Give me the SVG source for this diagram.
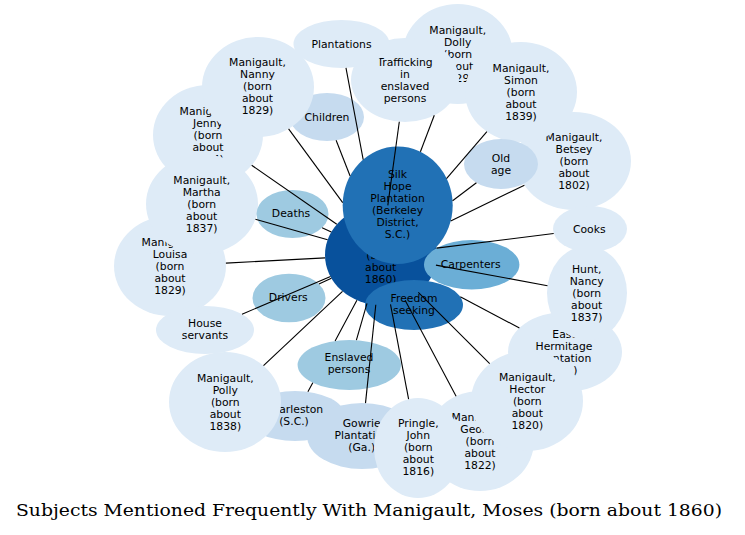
<svg xmlns="http://www.w3.org/2000/svg" width="745" height="535" viewBox="0 0 745 535">
<style>
.l{fill:#deebf7}.c{fill:#c6dbef}.m{fill:#9ecae1}.k{fill:#6baed6}.d{fill:#2171b5}.x{fill:#08519c}
text.t{font-family:"DejaVu Sans","Liberation Sans",sans-serif;font-size:10.8px;text-anchor:middle;fill:#000}
#edges path{stroke:#000;stroke-width:1.1;fill:none}
.title{font-family:"DejaVu Serif","Liberation Serif",serif;font-size:16.5px;text-anchor:middle;fill:#000}
</style>
<rect width="745" height="535" fill="#fff"/>
<g id="nodes">
<g id="n-moses"><ellipse class="x" cx="381" cy="255" rx="56" ry="50"/><text class="t" x="380.7" y="234.9"><tspan x="380.7">Manigault,</tspan><tspan x="380.7" dy="12">Moses</tspan><tspan x="380.7" dy="12">(born</tspan><tspan x="380.7" dy="12">about</tspan><tspan x="380.7" dy="12">1860)</tspan></text></g>
<g id="n-charleston"><ellipse class="c" cx="295" cy="416" rx="50" ry="25"/><text class="t" x="294" y="413.4"><tspan x="294">Charleston</tspan><tspan x="294" dy="12">(S.C.)</tspan></text></g>
<g id="n-gowrie"><ellipse class="c" cx="362" cy="436" rx="55" ry="33"/><text class="t" x="361.7" y="427.2"><tspan x="361.7">Gowrie</tspan><tspan x="361.7" dy="12">Plantation</tspan><tspan x="361.7" dy="12">(Ga.)</tspan></text></g>
<g id="n-jenny"><ellipse class="l" cx="208" cy="135" rx="55" ry="50"/><text class="t" x="208" y="114.9"><tspan x="208">Manigault,</tspan><tspan x="208" dy="12">Jenny</tspan><tspan x="208" dy="12">(born</tspan><tspan x="208" dy="12">about</tspan><tspan x="208" dy="12">1834)</tspan></text></g>
<g id="n-louisa"><ellipse class="l" cx="170" cy="266" rx="56" ry="50"/><text class="t" x="170" y="246.2"><tspan x="170">Manigault,</tspan><tspan x="170" dy="12">Louisa</tspan><tspan x="170" dy="12">(born</tspan><tspan x="170" dy="12">about</tspan><tspan x="170" dy="12">1829)</tspan></text></g>
<g id="n-children"><ellipse class="c" cx="327" cy="117" rx="37" ry="24"/><text class="t" x="327" y="120.9">Children</text></g>
<g id="n-dolly"><ellipse class="l" cx="457.7" cy="54" rx="55" ry="50"/><text class="t" x="457.7" y="33.6"><tspan x="457.7">Manigault,</tspan><tspan x="457.7" dy="12">Dolly</tspan><tspan x="457.7" dy="12">(born</tspan><tspan x="457.7" dy="12">about</tspan><tspan x="457.7" dy="12">1829)</tspan></text></g>
<g id="n-betsey"><ellipse class="l" cx="574" cy="161" rx="57" ry="49"/><text class="t" x="574" y="140.6"><tspan x="574">Manigault,</tspan><tspan x="574" dy="12">Betsey</tspan><tspan x="574" dy="12">(born</tspan><tspan x="574" dy="12">about</tspan><tspan x="574" dy="12">1802)</tspan></text></g>
<g id="n-east-hermitage"><ellipse class="l" cx="565" cy="352" rx="57" ry="40"/><text class="t" x="564" y="337.9"><tspan x="564">East</tspan><tspan x="564" dy="12">Hermitage</tspan><tspan x="564" dy="12">Plantation</tspan><tspan x="564" dy="12">(Ga.)</tspan></text></g>
<g id="n-george"><ellipse class="l" cx="480" cy="441" rx="54" ry="50"/><text class="t" x="480" y="421.2"><tspan x="480">Manigault,</tspan><tspan x="480" dy="12">George</tspan><tspan x="480" dy="12">(born</tspan><tspan x="480" dy="12">about</tspan><tspan x="480" dy="12">1822)</tspan></text></g>
<g id="n-martha"><ellipse class="l" cx="202" cy="204" rx="56" ry="50"/><text class="t" x="201.7" y="184.2"><tspan x="201.7">Manigault,</tspan><tspan x="201.7" dy="12">Martha</tspan><tspan x="201.7" dy="12">(born</tspan><tspan x="201.7" dy="12">about</tspan><tspan x="201.7" dy="12">1837)</tspan></text></g>
<g id="n-nanny"><ellipse class="l" cx="258" cy="87" rx="56" ry="50"/><text class="t" x="257.5" y="66.4"><tspan x="257.5">Manigault,</tspan><tspan x="257.5" dy="12">Nanny</tspan><tspan x="257.5" dy="12">(born</tspan><tspan x="257.5" dy="12">about</tspan><tspan x="257.5" dy="12">1829)</tspan></text></g>
<g id="n-trafficking"><ellipse class="l" cx="405" cy="80" rx="54" ry="42"/><text class="t" x="405" y="65.6"><tspan x="405">Trafficking</tspan><tspan x="405" dy="12">in</tspan><tspan x="405" dy="12">enslaved</tspan><tspan x="405" dy="12">persons</tspan></text></g>
<g id="n-simon"><ellipse class="l" cx="521" cy="92" rx="56" ry="50"/><text class="t" x="521" y="72.2"><tspan x="521">Manigault,</tspan><tspan x="521" dy="12">Simon</tspan><tspan x="521" dy="12">(born</tspan><tspan x="521" dy="12">about</tspan><tspan x="521" dy="12">1839)</tspan></text></g>
<g id="n-plantations"><ellipse class="l" cx="341.5" cy="44" rx="48" ry="24"/><text class="t" x="341.5" y="47.9">Plantations</text></g>
<g id="n-old-age"><ellipse class="c" cx="501" cy="164" rx="37" ry="25"/><text class="t" x="501" y="161.9"><tspan x="501">Old</tspan><tspan x="501" dy="12">age</tspan></text></g>
<g id="n-hunt"><ellipse class="l" cx="587" cy="293" rx="40" ry="47"/><text class="t" x="586.7" y="272.9"><tspan x="586.7">Hunt,</tspan><tspan x="586.7" dy="12">Nancy</tspan><tspan x="586.7" dy="12">(born</tspan><tspan x="586.7" dy="12">about</tspan><tspan x="586.7" dy="12">1837)</tspan></text></g>
<g id="n-hector"><ellipse class="l" cx="527" cy="401" rx="56" ry="50"/><text class="t" x="527.3" y="380.6"><tspan x="527.3">Manigault,</tspan><tspan x="527.3" dy="12">Hector</tspan><tspan x="527.3" dy="12">(born</tspan><tspan x="527.3" dy="12">about</tspan><tspan x="527.3" dy="12">1820)</tspan></text></g>
<g id="n-pringle"><ellipse class="l" cx="418" cy="448" rx="44" ry="50"/><text class="t" x="418.3" y="427.2"><tspan x="418.3">Pringle,</tspan><tspan x="418.3" dy="12">John</tspan><tspan x="418.3" dy="12">(born</tspan><tspan x="418.3" dy="12">about</tspan><tspan x="418.3" dy="12">1816)</tspan></text></g>
<g id="n-polly"><ellipse class="l" cx="225" cy="402" rx="56" ry="50"/><text class="t" x="225.3" y="382.2"><tspan x="225.3">Manigault,</tspan><tspan x="225.3" dy="12">Polly</tspan><tspan x="225.3" dy="12">(born</tspan><tspan x="225.3" dy="12">about</tspan><tspan x="225.3" dy="12">1838)</tspan></text></g>
<g id="n-cooks"><ellipse class="l" cx="590" cy="229" rx="37" ry="23"/><text class="t" x="589.3" y="233.2">Cooks</text></g>
<g id="n-house-servants"><ellipse class="l" cx="205" cy="330" rx="49" ry="24"/><text class="t" x="205" y="326.9"><tspan x="205">House</tspan><tspan x="205" dy="12">servants</tspan></text></g>
<g id="n-deaths"><ellipse class="m" cx="292.5" cy="214" rx="36" ry="24"/><text class="t" x="291" y="216.9">Deaths</text></g>
<g id="n-drivers"><ellipse class="m" cx="289" cy="298" rx="36.5" ry="24.3"/><text class="t" x="288.3" y="301.2">Drivers</text></g>
<g id="n-enslaved"><ellipse class="m" cx="349.3" cy="365" rx="51.7" ry="25"/><text class="t" x="349" y="361.4"><tspan x="349">Enslaved</tspan><tspan x="349" dy="12">persons</tspan></text></g>
<g id="n-silk-hope"><ellipse class="d" cx="397.7" cy="205.3" rx="55" ry="58.7"/><text class="t" x="397.5" y="178.2"><tspan x="397.5">Silk</tspan><tspan x="397.5" dy="12">Hope</tspan><tspan x="397.5" dy="12">Plantation</tspan><tspan x="397.5" dy="12">(Berkeley</tspan><tspan x="397.5" dy="12">District,</tspan><tspan x="397.5" dy="12">S.C.)</tspan></text></g>
<g id="n-carpenters"><ellipse class="k" cx="471.7" cy="264.7" rx="47.7" ry="24.7"/><text class="t" x="470.7" y="267.9">Carpenters</text></g>
<g id="n-freedom"><ellipse class="d" cx="414" cy="305" rx="49" ry="25"/><text class="t" x="414" y="301.9"><tspan x="414">Freedom</tspan><tspan x="414" dy="12">seeking</tspan></text></g>
</g>
<g id="edges">
<path d="M363.2,159.6L346,67.9"/>
<path d="M420.4,151.8L434.3,115.3"/>
<path d="M387.8,205.4L399.3,121.8"/>
<path d="M446.5,178.7L486.9,131.7"/>
<path d="M452.6,200.7L476.4,182.7"/>
<path d="M450.7,221.1L524.4,185.2"/>
<path d="M436.5,248.1L553.7,233.5"/>
<path d="M435.9,265.1L547.5,285.7"/>
<path d="M460.3,296.8L519.4,328"/>
<path d="M418.3,292.3L489.7,363.7"/>
<path d="M405.1,300.2L456.1,396.2"/>
<path d="M390.5,304.3L408.6,399.2"/>
<path d="M375.8,304.8L365.5,403.1"/>
<path d="M367,303.4L356.4,340.2"/>
<path d="M356.9,300.2L335.1,340.9M312.8,382.7L307.9,391.8"/>
<path d="M342.5,291.3L263.5,365.7"/>
<path d="M330.5,276.5L242,314.2"/>
<path d="M331.4,278.2L318.9,284"/>
<path d="M325.1,257.9L225.9,263.1"/>
<path d="M327.6,239.8L255.4,219.2"/>
<path d="M331.3,232L322.1,227.7"/>
<path d="M336.8,224.3L251.7,165.3"/>
<path d="M342.7,202.7L288.6,128.9"/>
<path d="M350.1,176L336.1,140.3"/>
</g>
<text class="title" x="369" y="516" textLength="706" lengthAdjust="spacingAndGlyphs">Subjects Mentioned Frequently With Manigault, Moses (born about 1860)</text>
</svg>
